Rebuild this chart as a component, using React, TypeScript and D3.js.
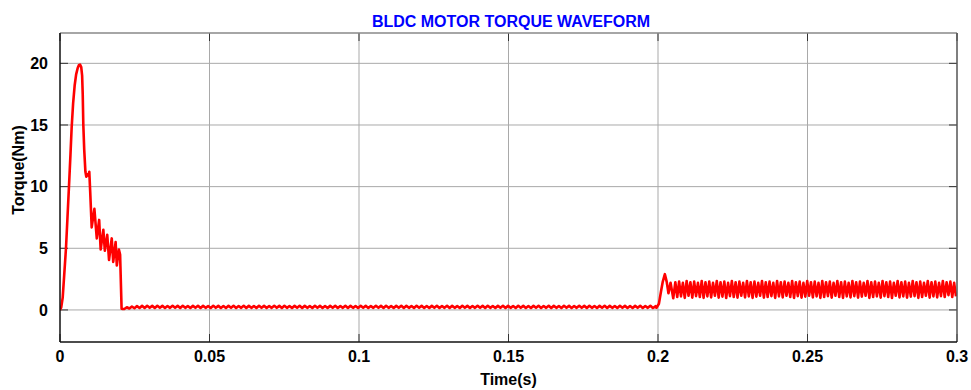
import React from 'react';
import * as d3 from 'd3';

const title = 'BLDC MOTOR TORQUE WAVEFORM';
const xLabel = 'Time(s)';
const yLabel = 'Torque(Nm)';
const xTicks = [0, 0.05, 0.1, 0.15, 0.2, 0.25, 0.3];
const xTickLabels = ['0', '0.05', '0.1', '0.15', '0.2', '0.25', '0.3'];
const yTicks = [0, 5, 10, 15, 20];
const yTickLabels = ['0', '5', '10', '15', '20'];

// start-up transient (s, Nm)
const startupTime = [
  0, 0.0004, 0.0009, 0.0014, 0.002, 0.0025, 0.003, 0.0035, 0.0039, 0.0044, 0.0049, 0.0054,
  0.0059, 0.0063, 0.0067, 0.0071, 0.0074, 0.0076, 0.0078, 0.0081, 0.0085, 0.0088, 0.0092, 0.0095,
  0.0098, 0.0101, 0.0106, 0.0115, 0.0123, 0.0131, 0.0136, 0.0145, 0.015, 0.0158, 0.0164,
  0.0173, 0.0178, 0.0186, 0.019, 0.0197, 0.0201, 0.0206, 0.021,
];
const startupTorque = [
  0, 0.2, 1.0, 2.8, 5.0, 7.5, 10.0, 12.6, 14.8, 16.8, 18.2, 19.1,
  19.6, 19.85, 19.9, 19.7, 19.0, 17.5, 15.0, 13.0, 11.2, 10.8, 11.0, 10.9,
  11.2, 9.6, 6.7, 8.2, 5.8, 7.3, 4.9, 6.5, 4.8, 6.1, 4.05,
  5.8, 3.9, 5.5, 3.6, 4.9, 4.5, 0.1, 0.08,
];

// no-load ripple, uniformly sampled
const lowRippleStart = 0.0215;
const lowRippleStep = 0.00085;
const lowRippleTorque = [
  0.08, 0.22, 0.12, 0.28, 0.14, 0.31, 0.16, 0.33, 0.16, 0.34, 0.17, 0.33, 0.16, 0.34, 0.17, 0.33, 0.16, 0.32, 0.17, 0.34,
  0.17, 0.33, 0.16, 0.34, 0.17, 0.32, 0.16, 0.33, 0.17, 0.34, 0.16, 0.33, 0.17, 0.32, 0.16, 0.34, 0.17, 0.33, 0.16, 0.32,
  0.16, 0.33, 0.17, 0.34, 0.16, 0.32, 0.17, 0.34, 0.16, 0.33, 0.17, 0.32, 0.16, 0.34, 0.17, 0.33, 0.16, 0.32, 0.17, 0.34,
  0.17, 0.33, 0.16, 0.34, 0.17, 0.32, 0.16, 0.33, 0.17, 0.34, 0.16, 0.33, 0.17, 0.32, 0.16, 0.34, 0.17, 0.33, 0.16, 0.32,
  0.16, 0.33, 0.17, 0.34, 0.16, 0.32, 0.17, 0.34, 0.16, 0.33, 0.17, 0.32, 0.16, 0.34, 0.17, 0.33, 0.16, 0.32, 0.17, 0.34,
  0.17, 0.33, 0.16, 0.34, 0.17, 0.32, 0.16, 0.33, 0.17, 0.34, 0.16, 0.33, 0.17, 0.32, 0.16, 0.34, 0.17, 0.33, 0.16, 0.32,
  0.16, 0.33, 0.17, 0.34, 0.16, 0.32, 0.17, 0.34, 0.16, 0.33, 0.17, 0.32, 0.16, 0.34, 0.17, 0.33, 0.16, 0.32, 0.17, 0.34,
  0.17, 0.33, 0.16, 0.34, 0.17, 0.32, 0.16, 0.33, 0.17, 0.34, 0.16, 0.33, 0.17, 0.32, 0.16, 0.34, 0.17, 0.33, 0.16, 0.32,
  0.16, 0.33, 0.17, 0.34, 0.16, 0.32, 0.17, 0.34, 0.16, 0.33, 0.17, 0.32, 0.16, 0.34, 0.17, 0.33, 0.16, 0.32, 0.17, 0.34,
  0.17, 0.33, 0.16, 0.34, 0.17, 0.32, 0.16, 0.33, 0.17, 0.34, 0.16, 0.33, 0.17, 0.32, 0.16, 0.34, 0.17, 0.33, 0.16, 0.32,
  0.16, 0.33, 0.17, 0.34, 0.16, 0.32, 0.17, 0.34, 0.16, 0.30,
];

// load application at 0.2 s
const loadStepTime = [0.1995, 0.2003, 0.201, 0.2016, 0.2023, 0.2029, 0.2035, 0.2042, 0.2051];
const loadStepTorque = [0.18, 0.5, 1.5, 2.3, 2.9, 2.3, 1.35, 2.2, 0.95];

// loaded ripple, uniformly sampled
const highRippleStart = 0.2058;
const highRippleStep = 0.00063;
const highRippleTorque = [
  2.25, 1.05, 2.3, 1.1, 2.2, 0.98, 2.35, 1.15, 2.25, 1.0, 2.3, 1.12, 2.2, 1.05, 2.35, 0.98, 2.25, 1.1, 2.3, 1.02,
  2.2, 1.15, 2.35, 1.0, 2.25, 1.08, 2.3, 0.97, 2.2, 1.12, 2.35, 1.05, 2.25, 1.0, 2.3, 1.15, 2.2, 1.02, 2.35, 1.1,
  2.25, 0.98, 2.3, 1.08, 2.2, 1.15, 2.35, 1.0, 2.25, 1.05, 2.3, 1.12, 2.2, 0.98, 2.35, 1.1, 2.25, 1.02, 2.3, 1.15,
  2.2, 1.05, 2.35, 0.97, 2.25, 1.12, 2.3, 1.0, 2.2, 1.08, 2.35, 1.15, 2.25, 1.02, 2.3, 1.1, 2.2, 0.98, 2.35, 1.05,
  2.25, 1.12, 2.3, 1.0, 2.2, 1.15, 2.35, 1.05, 2.25, 0.98, 2.3, 1.1, 2.2, 1.02, 2.35, 1.12, 2.25, 1.0, 2.3, 1.08,
  2.2, 1.15, 2.35, 0.98, 2.25, 1.05, 2.3, 1.1, 2.2, 1.0, 2.35, 1.12, 2.25, 1.05, 2.3, 0.97, 2.2, 1.15, 2.35, 1.02,
  2.25, 1.1, 2.3, 1.0, 2.2, 1.08, 2.35, 1.12, 2.25, 0.98, 2.3, 1.05, 2.2, 1.15, 2.35, 1.0, 2.25, 1.1, 2.3, 1.02,
  2.2, 1.12, 2.35, 1.05, 2.25, 1.2, 2.3, 1.05, 2.2, 1.1,
];

const W = 971;
const H = 390;
const plot = { left: 60, right: 957, top: 33, bottom: 342 };
const FONT = '"Liberation Sans", Arial, Helvetica, sans-serif';

type Pt = [number, number];

export default function App() {
  const x = d3.scaleLinear().domain([0, 0.3]).range([plot.left, plot.right]);
  const y = d3.scaleLinear().domain([-2.6, 22.46]).range([plot.bottom, plot.top]);

  const pts: Pt[] = [];
  startupTime.forEach((t, i) => pts.push([t, startupTorque[i]]));
  lowRippleTorque.forEach((v, i) => pts.push([lowRippleStart + i * lowRippleStep, v]));
  loadStepTime.forEach((t, i) => pts.push([t, loadStepTorque[i]]));
  highRippleTorque.forEach((v, i) => pts.push([highRippleStart + i * highRippleStep, v]));

  const line = d3
    .line<Pt>()
    .x((d) => x(d[0]))
    .y((d) => y(d[1]));

  const tickLen = 8;

  return (
    <svg
      width={W}
      height={H}
      style={{ position: 'absolute', left: 0, top: 0, display: 'block', background: '#fff' }}
    >
      <defs>
        <clipPath id="plotClip">
          <rect x={plot.left} y={plot.top} width={plot.right - plot.left} height={plot.bottom - plot.top} />
        </clipPath>
      </defs>
      <rect x={0} y={0} width={W} height={H} fill="#fff" />
      {/* grid */}
      {xTicks.slice(1, -1).map((t) => (
        <line key={'gx' + t} x1={x(t)} x2={x(t)} y1={plot.top} y2={plot.bottom} stroke="#a9a9a9" strokeWidth={1} />
      ))}
      {yTicks.map((t) => (
        <line key={'gy' + t} x1={plot.left} x2={plot.right} y1={y(t)} y2={y(t)} stroke="#a9a9a9" strokeWidth={1} />
      ))}
      {/* ticks */}
      {xTicks.map((t) => (
        <g key={'tx' + t}>
          <line x1={x(t)} x2={x(t)} y1={plot.bottom} y2={plot.bottom - tickLen} stroke="#333" />
          <line x1={x(t)} x2={x(t)} y1={plot.top} y2={plot.top + tickLen} stroke="#333" />
        </g>
      ))}
      {yTicks.map((t) => (
        <g key={'ty' + t}>
          <line x1={plot.left} x2={plot.left + tickLen} y1={y(t)} y2={y(t)} stroke="#333" />
          <line x1={plot.right} x2={plot.right - tickLen} y1={y(t)} y2={y(t)} stroke="#333" />
        </g>
      ))}
      {/* data */}
      <path
        d={line(pts) || ''}
        fill="none"
        stroke="#ff0000"
        strokeWidth={2.6}
        strokeLinejoin="round"
        clipPath="url(#plotClip)"
      />
      {/* box */}
      <line x1={plot.left} x2={plot.right} y1={plot.top} y2={plot.top} stroke="#888" strokeWidth={1.5} />
      <line x1={plot.right} x2={plot.right} y1={plot.top} y2={plot.bottom} stroke="#555" strokeWidth={1.5} />
      <line x1={plot.left} x2={plot.left} y1={plot.top} y2={plot.bottom} stroke="#111" strokeWidth={1.5} />
      <line x1={plot.left} x2={plot.right} y1={plot.bottom} y2={plot.bottom} stroke="#111" strokeWidth={1.5} />
      {/* tick labels */}
      {xTicks.map((t, i) => (
        <text
          key={'lx' + t}
          x={x(t)}
          y={362}
          textAnchor="middle"
          fontFamily={FONT}
          fontWeight="bold"
          fontSize={16}
          fill="#000"
        >
          {xTickLabels[i]}
        </text>
      ))}
      {yTicks.map((t, i) => (
        <text
          key={'ly' + t}
          x={48}
          y={y(t)}
          dy="0.36em"
          textAnchor="end"
          fontFamily={FONT}
          fontWeight="bold"
          fontSize={16}
          fill="#000"
        >
          {yTickLabels[i]}
        </text>
      ))}
      {/* labels */}
      <text x={(plot.left + plot.right) / 2} y={385} textAnchor="middle" fontFamily={FONT} fontWeight="bold" fontSize={16} fill="#000">
        {xLabel}
      </text>
      <text
        transform={`translate(24,170) rotate(-90)`}
        textAnchor="middle"
        fontFamily={FONT}
        fontWeight="bold"
        fontSize={16}
        fill="#000"
      >
        {yLabel}
      </text>
      <text x={511} y={27} textAnchor="middle" fontFamily={FONT} fontWeight="bold" fontSize={16} fill="#0000ff">
        {title}
      </text>
    </svg>
  );
}
